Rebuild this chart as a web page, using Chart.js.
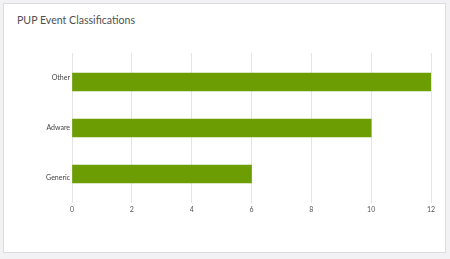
<!DOCTYPE html>
<html>
<head>
<meta charset="utf-8">
<script src="https://cdn.jsdelivr.net/npm/chart.js@4.4.1/dist/chart.umd.min.js"></script>
<style>
  html, body { margin: 0; padding: 0; }
  body { width: 450px; height: 259px; background: #f2f2f4; position: relative; overflow: hidden; }
  .card { position: absolute; left: 3px; top: 3px; width: 441px; height: 248px; background: #fff; border: 1px solid #dcdcde; }
  .title { position: absolute; left: 17px; top: 14px; font-family: Lato, "Open Sans", sans-serif; font-size: 10.6px; font-weight: 400; color: #505050; line-height: 13px; }
  .plot { position: absolute; left: 0; top: 0; width: 450px; height: 259px; }
</style>
</head>
<body>
<div class="card"></div>
<div class="title">PUP Event Classifications</div>
<div class="plot"><canvas id="chart" width="450" height="259"></canvas></div>
<script>
// Event counts per PUP classification
const categories = ["Other", "Adware", "Generic"];
const eventCounts = [12, 10, 6];
const xMin = 0;
const xMax = 12;
const xStep = 2;

const gridColor = "#e4e4e6";
const barColor = "#6c9d02";

// bars sit on a hidden numeric row axis so they can be packed a little
// tighter than the category labels
const barRows = categories.map((c, i) => ({ x: eventCounts[i], y: i }));
const rowPad = 0.63;

new Chart(document.getElementById("chart"), {
  type: "bar",
  data: {
    labels: categories,
    datasets: [{
      data: barRows,
      yAxisID: "yBar",
      backgroundColor: barColor,
      borderWidth: 0,
      barThickness: 18
    }]
  },
  options: {
    indexAxis: "y",
    responsive: false,
    animation: false,
    layout: { padding: { top: 53, right: 19, bottom: 0, left: 0 } },
    plugins: { legend: { display: false }, tooltip: { enabled: false } },
    scales: {
      x: {
        position: "bottom",
        min: xMin, max: xMax,
        border: { display: false },
        grid: { color: gridColor, lineWidth: 1, drawTicks: false },
        ticks: { stepSize: xStep, padding: 3, color: "#555", font: { family: "Lato", size: 7 } },
        afterFit: s => { s.height = 56; }
      },
      y: {
        type: "category",
        position: "left",
        offset: true,
        border: { display: false },
        grid: { display: false, drawTicks: false },
        ticks: { padding: 2, color: "#444", font: { family: "Lato", size: 7 } },
        afterFit: s => { s.width = 72; }
      },
      yBar: {
        type: "linear",
        position: "left",
        reverse: true,
        offset: false,
        min: -rowPad,
        max: categories.length - 1 + rowPad,
        display: false
      }
    }
  }
});
</script>
</body>
</html>
